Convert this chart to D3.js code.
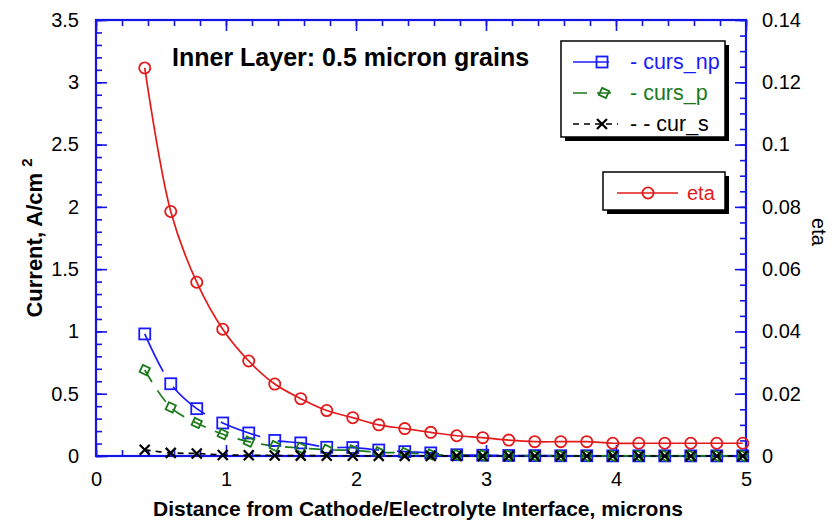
<!DOCTYPE html>
<html>
<head>
<meta charset="utf-8">
<script src="https://cdn.jsdelivr.net/npm/d3@7"></script>
<style>
  html, body { margin: 0; padding: 0; background: #fff; }
  svg { display: block; font-family: "Liberation Sans", Arial, sans-serif; }
</style>
</head>
<body>
<svg id="chart" width="838" height="526"></svg>
<script>
// Distance from the cathode/electrolyte interface (microns)
const distance = [0.375, 0.575, 0.775, 0.975, 1.175, 1.375, 1.575, 1.775, 1.975, 2.175, 2.375, 2.575,
                  2.775, 2.975, 3.175, 3.375, 3.575, 3.775, 3.975, 4.175, 4.375, 4.575, 4.775, 4.975];

// Current densities, A/cm^2 (left axis)
const cursNp = [0.98, 0.58, 0.38, 0.265, 0.185, 0.125, 0.105, 0.07, 0.068, 0.048, 0.035, 0.025,
                0.01, 0.006, 0.004, 0.003, 0.002, 0.002, 0.001, 0.001, 0.001, 0.001, 0.001, 0.001];
const cursP  = [0.69, 0.39, 0.265, 0.175, 0.115, 0.08, 0.065, 0.05, 0.045, 0.03, 0.025, 0.012,
                0.008, 0.005, 0.003, 0.002, 0.002, 0.001, 0.001, 0.001, 0.001, 0.001, 0.001, 0.001];
const curS   = [0.05, 0.025, 0.02, 0.008, 0.006, 0.004, 0.003, 0.002, 0.002, 0.001, 0.001, 0.001,
                0.001, 0, 0, 0, 0, 0, 0, 0, 0, 0, 0, 0];

// Overpotential eta (right axis)
const eta = [0.1246, 0.0785, 0.0558, 0.0407, 0.0305, 0.0231, 0.0184, 0.0146, 0.0123, 0.0100, 0.0088, 0.0076,
             0.0065, 0.0059, 0.0051, 0.0046, 0.0046, 0.0046, 0.0041, 0.0041, 0.0041, 0.0041, 0.0041, 0.0041];

// Tick labels
const xTickLabels = ["0", "1", "2", "3", "4", "5"];
const yLeftTickLabels = ["0", "0.5", "1", "1.5", "2", "2.5", "3", "3.5"];
const yRightTickLabels = ["0", "0.02", "0.04", "0.06", "0.08", "0.1", "0.12", "0.14"];

const AXIS = "#1414e6", BLUE = "#1a1aff", GREEN = "#1a7a1a", RED = "#e41a1a", BLACK = "#000";

const svg = d3.select("#chart");
const L = 96, R = 746, T = 20, B = 456;

const x = d3.scaleLinear().domain([0, 5]).range([L, R]);
const yL = d3.scaleLinear().domain([0, 3.5]).range([B, T]);
const yR = d3.scaleLinear().domain([0, 0.14]).range([B, T]);

// ---- axes: inward ticks on all four sides ----
function tickGroup(axis, tx, ty) {
  const g = svg.append("g").attr("transform", `translate(${tx},${ty})`).call(axis);
  g.select(".domain").remove();
  g.selectAll("line").attr("stroke", AXIS).attr("stroke-width", 1.6);
  return g;
}
const xMajor = xTickLabels.map(Number);
const yLMajor = yLeftTickLabels.map(Number);
const yRMajor = yRightTickLabels.map(Number);

tickGroup(d3.axisBottom(x).ticks(25).tickSize(6).tickFormat(""), 0, T);
tickGroup(d3.axisBottom(x).tickValues(xMajor).tickSize(11).tickFormat(""), 0, T);
tickGroup(d3.axisTop(x).ticks(25).tickSize(6).tickFormat(""), 0, B);
tickGroup(d3.axisTop(x).tickValues(xMajor).tickSize(11).tickFormat(""), 0, B);
tickGroup(d3.axisRight(yL).ticks(35).tickSize(6).tickFormat(""), L, 0);
tickGroup(d3.axisRight(yL).tickValues(yLMajor).tickSize(11).tickFormat(""), L, 0);
tickGroup(d3.axisLeft(yR).ticks(28).tickSize(6).tickFormat(""), R, 0);
tickGroup(d3.axisLeft(yR).tickValues(yRMajor).tickSize(11).tickFormat(""), R, 0);

// tick labels
function labelGroup(axis, tx, ty) {
  const g = svg.append("g").attr("transform", `translate(${tx},${ty})`).call(axis);
  g.select(".domain").remove();
  g.selectAll("line").remove();
  g.selectAll("text").attr("font-family", "'Liberation Sans', Arial, sans-serif")
    .attr("font-size", 20).attr("fill", "#000");
  return g;
}
labelGroup(d3.axisBottom(x).tickValues(xMajor).tickSize(0).tickPadding(16)
  .tickFormat((d, i) => xTickLabels[i]), 0, B);
labelGroup(d3.axisLeft(yL).tickValues(yLMajor).tickSize(0).tickPadding(17)
  .tickFormat((d, i) => yLeftTickLabels[i]), L, 0);
labelGroup(d3.axisRight(yR).tickValues(yRMajor).tickSize(0).tickPadding(16)
  .tickFormat((d, i) => yRightTickLabels[i]), R, 0);

// frame
svg.append("rect").attr("x", L).attr("y", T).attr("width", R - L).attr("height", B - T)
  .attr("fill", "none").attr("stroke", AXIS).attr("stroke-width", 2.2);

// ---- series ----
const pts = (vals) => distance.map((d, i) => [d, vals[i]]);
const lineL = d3.line().x(d => x(d[0])).y(d => yL(d[1])).curve(d3.curveCatmullRom.alpha(0.5));
const lineR = d3.line().x(d => x(d[0])).y(d => yR(d[1])).curve(d3.curveCatmullRom.alpha(0.5));

const series = [
  { name: "eta", vals: eta, line: lineR, y: yR, color: RED, dash: null, marker: "circle" },
  { name: "curs_np", vals: cursNp, line: lineL, y: yL, color: BLUE, dash: "42,18", marker: "square" },
  { name: "curs_p", vals: cursP, line: lineL, y: yL, color: GREEN, dash: "14,10", marker: "diamond" },
  { name: "cur_s", vals: curS, line: lineL, y: yL, color: BLACK, dash: "6,5", marker: "cross" }
];

function drawMarker(g, type, cx, cy, color) {
  const s = g.append("g").attr("transform", `translate(${cx},${cy})`)
    .attr("fill", "none").attr("stroke", color).attr("stroke-width", 1.8);
  if (type === "circle") s.append("circle").attr("r", 5.6);
  else if (type === "square") s.append("rect").attr("x", -5.5).attr("y", -5.5).attr("width", 11).attr("height", 11);
  else if (type === "diamond") s.append("path").attr("d", "M0,-5.5L5.5,0L0,5.5L-5.5,0Z").attr("transform", "rotate(-20)");
  else if (type === "cross") s.append("path").attr("d", "M-5,-5L5,5M-5,5L5,-5").attr("stroke-width", 2.2);
}

series.forEach(sr => {
  svg.append("path").datum(pts(sr.vals)).attr("d", sr.line)
    .attr("fill", "none").attr("stroke", sr.color).attr("stroke-width", 1.7)
    .attr("stroke-dasharray", sr.dash);
});
series.forEach(sr => {
  const g = svg.append("g");
  pts(sr.vals).forEach(p => drawMarker(g, sr.marker, x(p[0]), sr.y(p[1]), sr.color));
});

// ---- title ----
svg.append("text").attr("x", 172).attr("y", 66).attr("font-size", 25).attr("font-weight", "bold")
  .text("Inner Layer: 0.5 micron grains");

// ---- legends ----
function legendBox(x0, y0, w, h) {
  svg.append("rect").attr("x", x0 + 4).attr("y", y0 + 4).attr("width", w).attr("height", h).attr("fill", "#000");
  svg.append("rect").attr("x", x0).attr("y", y0).attr("width", w).attr("height", h)
    .attr("fill", "#fff").attr("stroke", "#000").attr("stroke-width", 1.5);
}
legendBox(561, 41, 164, 96);
const leg1 = [
  { sr: series[1], label: "- curs_np", y: 62, x1: 573, x2: 609, mx: 602 },
  { sr: series[2], label: "- curs_p", y: 93, x1: 573, x2: 615, mx: 604 },
  { sr: series[3], label: "- - cur_s", y: 124, x1: 573, x2: 618, mx: 602 }
];
leg1.forEach(e => {
  svg.append("line").attr("x1", e.x1).attr("x2", e.x2).attr("y1", e.y).attr("y2", e.y)
    .attr("stroke", e.sr.color).attr("stroke-width", 1.7).attr("stroke-dasharray", e.sr.dash);
  drawMarker(svg, e.sr.marker, e.mx, e.y, e.sr.color);
  svg.append("text").attr("x", 630).attr("y", e.y + 7).attr("font-size", 21.5).attr("fill", e.sr.color).text(e.label);
});

legendBox(603, 172, 122, 38);
svg.append("line").attr("x1", 617).attr("x2", 678).attr("y1", 193).attr("y2", 193)
  .attr("stroke", RED).attr("stroke-width", 1.7);
drawMarker(svg, "circle", 648, 193, RED);
svg.append("text").attr("x", 687).attr("y", 200).attr("font-size", 20).attr("fill", RED).text("eta");

// ---- axis titles ----
svg.append("text").attr("x", 418).attr("y", 516).attr("text-anchor", "middle")
  .attr("font-size", 21).attr("font-weight", "bold")
  .text("Distance from Cathode/Electrolyte Interface, microns");

const yTitle = svg.append("text").attr("transform", "translate(42,238) rotate(-90)")
  .attr("text-anchor", "middle").attr("font-size", 22).attr("font-weight", "bold");
yTitle.append("tspan").text("Current, A/cm ");
yTitle.append("tspan").attr("dy", -10).attr("font-size", 15).text("2");

svg.append("text").attr("transform", "translate(812,232) rotate(90)")
  .attr("text-anchor", "middle").attr("font-size", 20).text("eta");
</script>
</body>
</html>
